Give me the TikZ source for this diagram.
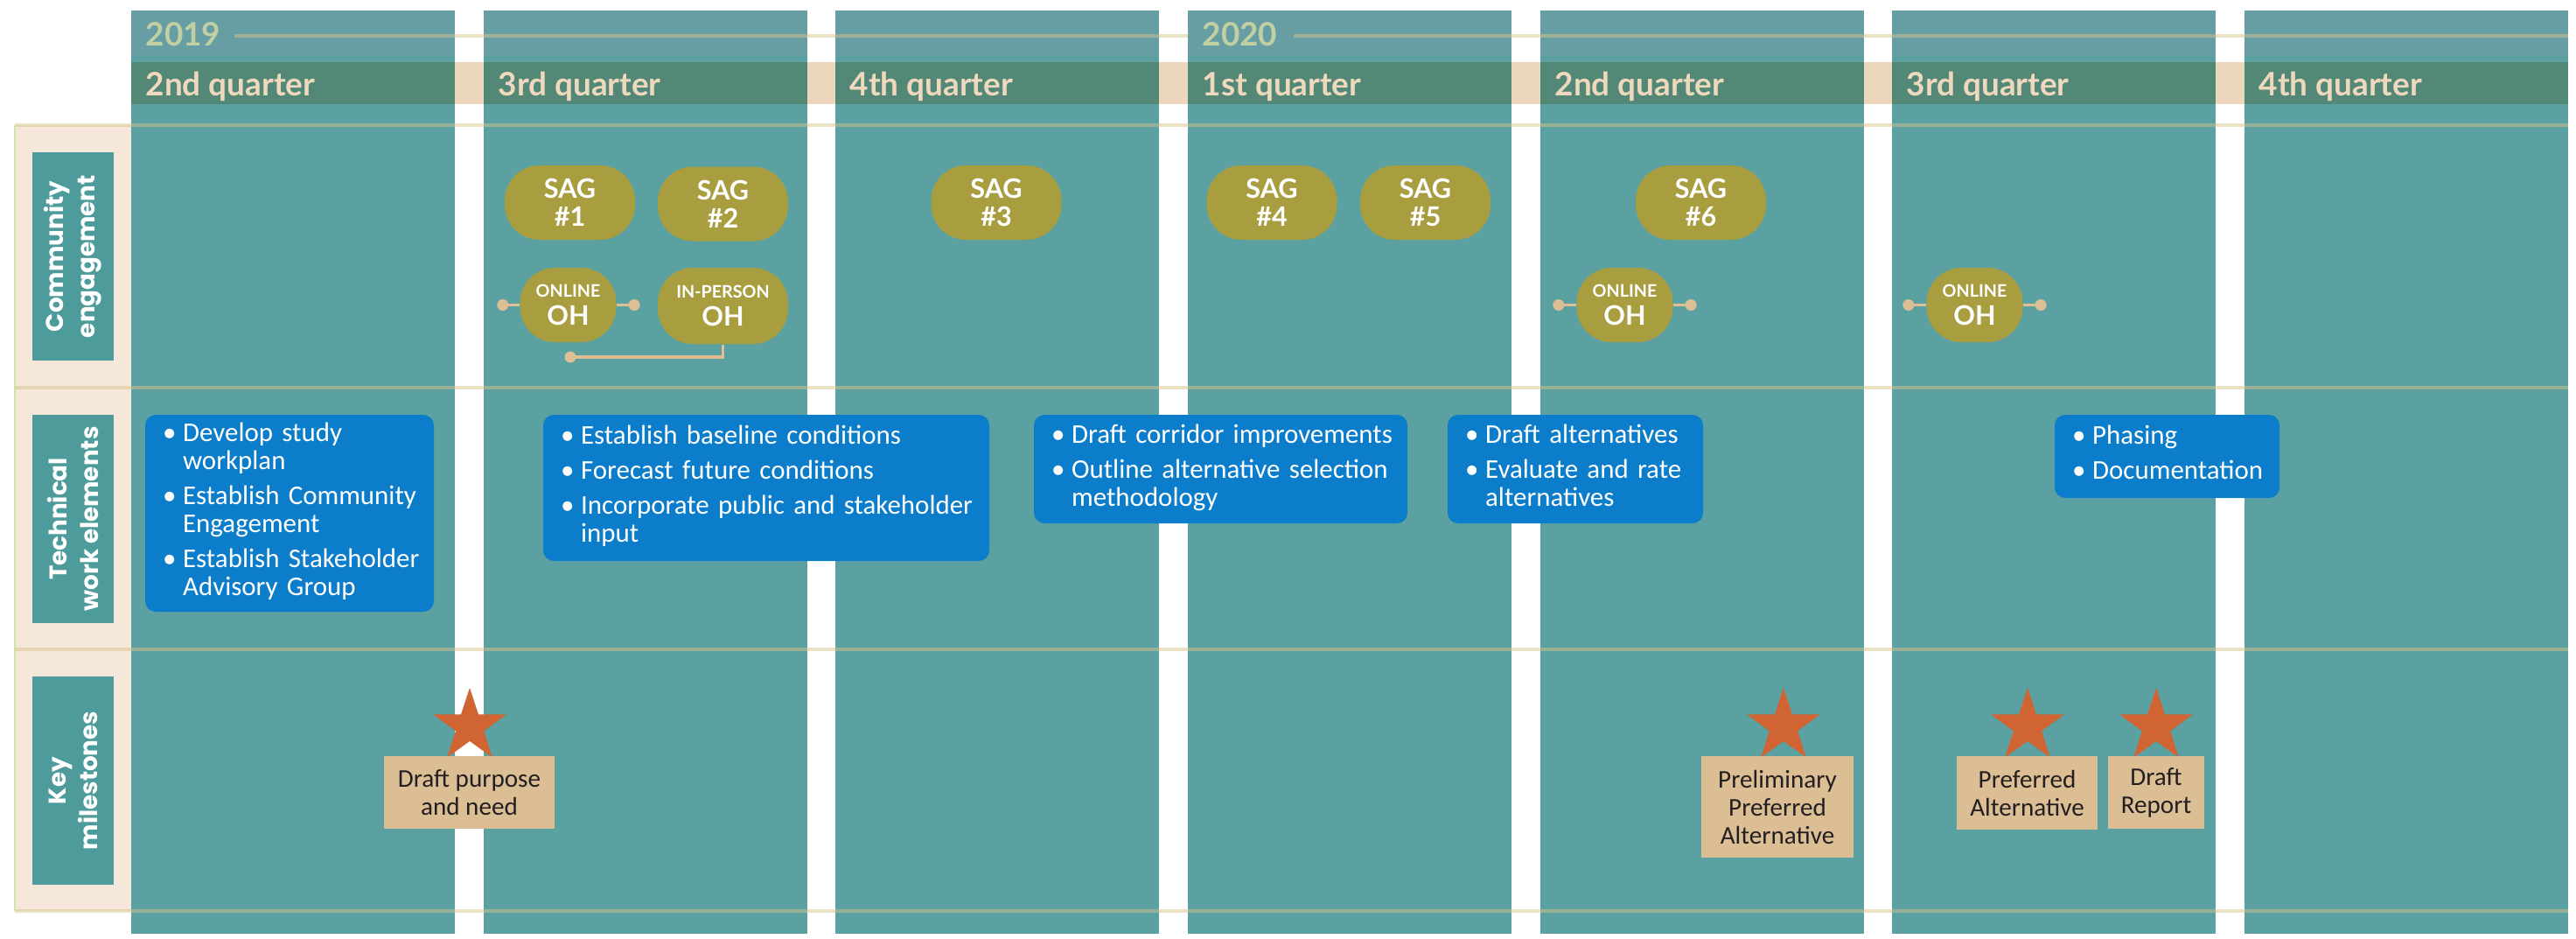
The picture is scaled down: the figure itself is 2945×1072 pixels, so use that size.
\documentclass[tikz,border=0pt]{standalone}
\usepackage{fontspec}
\setmainfont{Carlito}
\newfontfamily\headfont{Lato}
\newfontfamily\rowfont{Poppins}
\usetikzlibrary{shapes.geometric}

\definecolor{colteal}{HTML}{5BA1A1}
\definecolor{yearteal}{HTML}{679EA3}
\definecolor{qgreen}{HTML}{538876}
\definecolor{qgap}{HTML}{ECD6BC}
\definecolor{panelbg}{HTML}{F5E7DA}
\definecolor{paneledge}{HTML}{D3E3AE}
\definecolor{lblteal}{HTML}{4E9B9B}
\definecolor{sagolive}{HTML}{A89E40}
\definecolor{linktan}{HTML}{DDBF93}
\definecolor{taskblue}{HTML}{0B7DCB}
\definecolor{starred}{HTML}{D06433}
\definecolor{miletan}{HTML}{DBBE94}
\definecolor{miletext}{HTML}{231F20}
\definecolor{qtext}{HTML}{EED9BE}
\definecolor{ytext}{HTML}{C1CFA3}
\definecolor{rulekhaki}{HTML}{D7C38C}

\newcommand{\bitems}[1]{\noindent\begin{tabular}{@{}l@{\hspace{2.2pt}}l@{}}#1\end{tabular}}
\newcommand{\bi}{\textbullet&}

\begin{document}
\begin{tikzpicture}[x=0.1mm,y=-0.1mm,
  rule/.style={draw=rulekhaki,draw opacity=0.5,line width=0.35mm},
  qlbl/.style={anchor=base west,inner sep=0pt,text=qtext,font=\headfont\bfseries\fontsize{10.5}{12}\selectfont},
  ylbl/.style={qlbl,text=ytext},
  rowlbl/.style={fill=lblteal,rotate=90,minimum width=23.8mm,minimum height=9.3mm,inner sep=0pt,text=white,align=center,font=\rowfont\bfseries\fontsize{7.9}{10.2}\selectfont},
  sag/.style={fill=sagolive,rounded corners=4mm,minimum width=14.9mm,minimum height=8.5mm,inner sep=0pt,text=white,align=center,font=\headfont\bfseries\fontsize{8.7}{9}\selectfont},
  oh/.style={sag,minimum width=11mm},
  link/.style={draw=linktan,line width=1pt},
  task/.style={fill=taskblue,rounded corners=1.2mm,inner xsep=2mm,inner ysep=0pt,text=white,align=left,font=\fontsize{8.8}{9.1}\selectfont},
  mstar/.style={star,star points=5,star point ratio=2.6,fill=starred,minimum size=8.8mm,inner sep=0pt},
  mile/.style={fill=miletan,text=miletext,align=center,inner sep=0pt,font=\fontsize{8.3}{9.1}\selectfont}]

  \useasboundingbox (0,0) rectangle (2945,1072);
  \fill[panelbg] (17,143) rectangle (150,1041);
  \draw[paneledge,line width=0.2mm] (17,143) -- (17,1041);
  \fill[qgap] (150,71) rectangle (2936,119);
  \foreach \cx in {150,553,955,1358,1761,2163,2566} {
    \fill[colteal] (\cx,12) rectangle ++(370,1055);
    \fill[yearteal] (\cx,12) rectangle ++(370,52);
    \fill[qgreen] (\cx,71) rectangle ++(370,48);
  }
  \foreach \ry in {143,443,742,1041}
    \draw[rule] (17,\ry) -- (2936,\ry);
  \draw[rule] (268,41) -- (1358,41);
  \draw[rule] (1479,41) -- (2936,41);

  \node[ylbl] (y2019) at (166,52) {2019};
  \node[ylbl] (y2020) at (1374,52) {2020};
  \foreach \cx/\q [count=\k] in {150/2nd,553/3rd,955/4th,1358/1st,1761/2nd,2163/3rd,2566/4th}
    \node[qlbl] (q\k) at (\cx+16,109) {\q\ quarter};

  \node[rowlbl] (rcom) at (83.5,293) {Community\\engagement};
  \node[rowlbl] (rtech) at (83.5,593) {Technical\\work elements};
  \node[rowlbl] (rkey) at (83.5,892) {Key\\milestones};

  \node[sag] (sag1) at (651.5,231.5) {SAG\\\#1};
  \node[sag] (sag2) at (826.5,233) {SAG\\\#2};
  \node[sag] (sag3) at (1139,231.5) {SAG\\\#3};
  \node[sag] (sag4) at (1454,231.5) {SAG\\\#4};
  \node[sag] (sag5) at (1629.5,231.5) {SAG\\\#5};
  \node[sag] (sag6) at (1944.5,231.5) {SAG\\\#6};

  \node[oh] (oh1) at (649.5,348.5) {{\fontsize{5.6}{9}\selectfont ONLINE}\\OH};
  \node[sag,minimum height=8.7mm] (oh2) at (826.5,349.5) {{\fontsize{5.6}{9}\selectfont IN-PERSON}\\OH};
  \node[oh] (oh3) at (1857.5,348.5) {{\fontsize{5.6}{9}\selectfont ONLINE}\\OH};
  \node[oh] (oh4) at (2257.5,348.5) {{\fontsize{5.6}{9}\selectfont ONLINE}\\OH};

  \coordinate (d1) at ([xshift=-1.9mm]oh1.west);
  \coordinate (d2) at ([xshift=2mm]oh1.east);
  \coordinate (d3) at (652,408);
  \coordinate (d4) at ([xshift=-2mm]oh3.west);
  \coordinate (d5) at ([xshift=2mm]oh3.east);
  \coordinate (d6) at ([xshift=-2mm]oh4.west);
  \coordinate (d7) at ([xshift=2mm]oh4.east);
  \draw[link] (oh1.west) -- (d1);
  \draw[link] (oh1.east) -- (d2);
  \draw[link] (oh2.south) |- (d3);
  \draw[link] (oh3.west) -- (d4);
  \draw[link] (oh3.east) -- (d5);
  \draw[link] (oh4.west) -- (d6);
  \draw[link] (oh4.east) -- (d7);
  \foreach \d in {d1,d2,d3,d4,d5,d6,d7}
    \fill[linktan] (\d) circle (0.65mm);

  \node[task,text width=29mm,minimum height=22.5mm] (t1) at (331,586.5)
    {\bitems{\bi Develop study\\ & workplan\\[2.3pt] \bi Establish Community\\ & Engagement\\[2.3pt] \bi Establish Stakeholder\\ & Advisory Group}};
  \node[task,text width=47mm,minimum height=16.7mm] (t2) at (876,557.5)
    {\bitems{\bi Establish baseline conditions\\[2.3pt] \bi Forecast future conditions\\[2.3pt] \bi Incorporate public and stakeholder\\ & input}};
  \node[task,text width=38.7mm,minimum height=12.4mm] (t3) at (1395.5,536)
    {\bitems{\bi Draft corridor improvements\\[2.3pt] \bi Outline alternative selection\\ & methodology}};
  \node[task,text width=25.2mm,minimum height=12.4mm] (t4) at (1801,536)
    {\bitems{\bi Draft alternatives\\[2.3pt] \bi Evaluate and rate\\ & alternatives}};
  \node[task,text width=21.7mm,minimum height=9.5mm] (t5) at (2477.5,521.5)
    {\bitems{\bi Phasing\\[2.3pt] \bi Documentation}};

  \node[mstar] (s1) at (537,830) {};
  \node[mstar] (s2) at (2039,830) {};
  \node[mstar] (s3) at (2318,830) {};
  \node[mstar] (s4) at (2465,830) {};
  \node[mile,minimum width=19.5mm,minimum height=8.3mm] (m1) at (536.5,905.5) {Draft purpose\\and need};
  \node[mile,minimum width=17.4mm,minimum height=11.6mm] (m2) at (2032,922) {Preliminary\\Preferred\\Alternative};
  \node[mile,minimum width=16.1mm,minimum height=8.4mm] (m3) at (2317.5,906) {Preferred\\Alternative};
  \node[mile,minimum width=11mm,minimum height=8.3mm] (m4) at (2465,905.5) {Draft\\Report};
\end{tikzpicture}
\end{document}
